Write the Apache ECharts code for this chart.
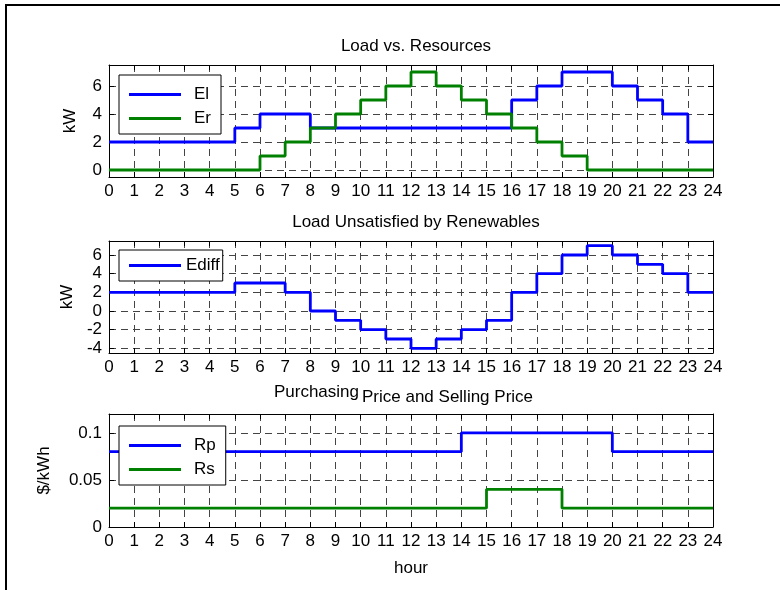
<!DOCTYPE html>
<html><head><meta charset="utf-8">
<script src="https://cdn.jsdelivr.net/npm/echarts@6.0.0/dist/echarts.min.js"></script>
<style>html,body{margin:0;padding:0;background:#fff}#c{width:780px;height:590px}</style>
</head><body><div id="c"></div><script>
// ---- data ----
const hours = [0,1,2,3,4,5,6,7,8,9,10,11,12,13,14,15,16,17,18,19,20,21,22,23,24];
const El    = [2,2,2,2,2,3,4,4,3,3,3,3,3,3,3,3,5,6,7,7,6,5,4,2];
const Er    = [0,0,0,0,0,0,1,2,3,4,5,6,7,6,5,4,3,2,1,0,0,0,0,0];
const Ediff = [2,2,2,2,2,3,3,2,0,-1,-2,-3,-4,-3,-2,-1,2,4,6,7,6,5,4,2];
const Rp    = [0.08,0.08,0.08,0.08,0.08,0.08,0.08,0.08,0.08,0.08,0.08,0.08,0.08,0.08,0.1,0.1,0.1,0.1,0.1,0.1,0.08,0.08,0.08,0.08];
const Rs    = [0.02,0.02,0.02,0.02,0.02,0.02,0.02,0.02,0.02,0.02,0.02,0.02,0.02,0.02,0.02,0.04,0.04,0.04,0.02,0.02,0.02,0.02,0.02,0.02];
const yTicks1 = [0,2,4,6];
const yTicks2 = [-4,-2,0,2,4,6];
const yTicks3 = [0,0.05,0.1];
const titles = ['Load vs. Resources','Load Unsatisfied by Renewables','Purchasing','Price and Selling Price'];

const FONT = 'Liberation Sans, Arial, Helvetica, sans-serif';
const FS = 17;
const BLUE = '#0000ff', GREEN = '#008000';
const gridLine = {show:true, lineStyle:{color:'#444', type:[7,5], width:1}};

function stepData(vals){
  const d = vals.map((v,i)=>[hours[i], v]);
  d.push([hours[vals.length], vals[vals.length-1]]);
  return d;
}

const grids = [
  {left:109, top:65, width:604, height:112},
  {left:109, top:241, width:604, height:112},
  {left:109, top:414, width:604, height:113}
];
const yRanges = [[-0.5,7.5],[-4.5,7.5],[0,0.12]];
const yTicks = [yTicks1,yTicks2,yTicks3];
const yNames = ['kW','kW','$/kWh'];
const yGaps = [30,30,56];

const xAxis = [], yAxis = [];
for (let g=0; g<3; g++){
  xAxis.push({type:'value', gridIndex:g, min:0, max:24, interval:1, position:'bottom',
    axisLine:{show:true, onZero:false, lineStyle:{color:'#000', width:1}},
    axisTick:{show:true, inside:true, length:5, lineStyle:{color:'#000'}},
    axisLabel:{show:true, color:'#000', fontSize:FS, fontFamily:FONT, margin:6},
    splitLine:gridLine,
    name: g===2 ? 'hour' : '', nameLocation:'middle', nameGap:33,
    nameTextStyle:{color:'#000', fontSize:FS, fontFamily:FONT}
  });
  xAxis.push({type:'value', gridIndex:g, min:0, max:24, interval:1, position:'top',
    axisLine:{show:true, onZero:false, lineStyle:{color:'#000', width:1}},
    axisTick:{show:true, inside:true, length:5, lineStyle:{color:'#000'}},
    axisLabel:{show:false}, splitLine:{show:false}
  });
  yAxis.push({type:'value', gridIndex:g, min:yRanges[g][0], max:yRanges[g][1], position:'left',
    axisLine:{show:true, onZero:false, lineStyle:{color:'#000', width:1}},
    axisTick:{show:true, inside:true, length:5, customValues:yTicks[g], lineStyle:{color:'#000'}},
    axisLabel:{show:true, customValues:yTicks[g], color:'#000', fontSize:FS, fontFamily:FONT, margin:7},
    splitLine:gridLine,
    name:yNames[g], nameLocation:'middle', nameGap:yGaps[g], nameRotate:90,
    nameTextStyle:{color:'#000', fontSize:FS, fontFamily:FONT}
  });
  yAxis.push({type:'value', gridIndex:g, min:yRanges[g][0], max:yRanges[g][1], position:'right',
    axisLine:{show:true, onZero:false, lineStyle:{color:'#000', width:1}},
    axisTick:{show:true, inside:true, length:5, customValues:yTicks[g], lineStyle:{color:'#000'}},
    axisLabel:{show:false}, splitLine:{show:false}
  });
}

function ser(name, vals, g, color){
  return {name, type:'line', step:'end', xAxisIndex:g*2, yAxisIndex:g*2, data:stepData(vals),
    showSymbol:false, symbol:'none', color, lineStyle:{color, width:2.8}, animation:false, z:3};
}

const legendBase = {orient:'vertical', left:119, backgroundColor:'#fff', borderColor:'#000', borderWidth:1,
  icon:'rect', itemWidth:52, itemHeight:3, itemGap:7, selectedMode:false};
const legendText = (pl)=>({color:'#000', fontSize:FS, fontFamily:FONT, padding:[0,0,0,pl]});
const titleStyle = {fontSize:FS, fontWeight:'normal', color:'#000', fontFamily:FONT};

const option = {
  backgroundColor:'#fff',
  animation:false,
  title:[
    {text:titles[0], left:411, top:33, textAlign:'center', textStyle:titleStyle},
    {text:titles[1], left:411, top:209, textAlign:'center', textStyle:titleStyle},
    {text:titles[2], left:354, top:379, textAlign:'right', textStyle:titleStyle},
    {text:titles[3], left:357, top:384, textAlign:'left', textStyle:titleStyle}
  ],
  grid:grids,
  xAxis, yAxis,
  legend:[
    Object.assign({}, legendBase, {top:75, data:['El','Er'], padding:[11,10,7,10], textStyle:legendText(8)}),
    Object.assign({}, legendBase, {top:250, data:['Ediff'], padding:[7,3,7,10], textStyle:legendText(0)}),
    Object.assign({}, legendBase, {top:426, data:['Rp','Rs'], padding:[11,10,7,10], textStyle:legendText(8)})
  ],
  graphic:[{type:'rect', shape:{x:6, y:5, width:800, height:600}, style:{fill:null, stroke:'#000', lineWidth:2}, silent:true}],
  series:[
    ser('El', El, 0, BLUE), ser('Er', Er, 0, GREEN),
    ser('Ediff', Ediff, 1, BLUE),
    ser('Rp', Rp, 2, BLUE), ser('Rs', Rs, 2, GREEN)
  ]
};
const chart = echarts.init(document.getElementById('c'), null, {renderer:'canvas'});
chart.setOption(option);
</script></body></html>
